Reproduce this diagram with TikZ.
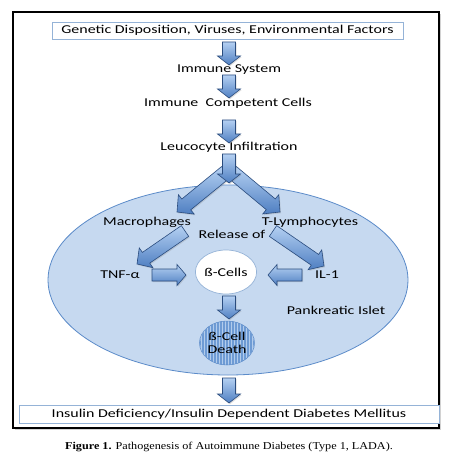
\documentclass[tikz,border=0pt]{standalone}
\usepackage{fontspec}
\setmainfont{Carlito}
\newfontfamily\capfont{Liberation Serif}
\usetikzlibrary{calc,patterns,shadows,shapes.geometric}
\definecolor{arrlight}{HTML}{B4D0F2}
\definecolor{arrdark}{HTML}{4F7FC2}
\definecolor{arredge}{HTML}{2A4C7E}
\definecolor{islefill}{HTML}{C6D9F0}
\definecolor{isleedge}{HTML}{5B8BC9}
\definecolor{boxedge}{HTML}{95B3D7}
\definecolor{deathfill}{HTML}{6E9BD4}
\definecolor{deathline}{HTML}{B2CCEC}
\newcommand\wtext[1]{\scalebox{1.33}[1]{#1}}
% block arrow: shaft half width, head half width, head length, from, to
\newcommand\barrow[5]{%
  \draw[blockarr]
    ($(#4)!#1pt!90:(#5)$) --
    ($(#5)!#3pt!(#4)!#1pt!90:(#5)$) --
    ($(#5)!#3pt!(#4)!#2pt!90:(#5)$) --
    (#5) --
    ($(#5)!#3pt!(#4)!#2pt!-90:(#5)$) --
    ($(#5)!#3pt!(#4)!#1pt!-90:(#5)$) --
    ($(#4)!#1pt!-90:(#5)$) -- cycle;}
\tikzset{
  blockarr/.style={draw=arredge, line width=0.6pt, line join=miter,
    top color=arrlight, bottom color=arrdark,
    drop shadow={opacity=0.25, shadow xshift=1pt, shadow yshift=-1.2pt}},
  lbl/.style={font=\fontsize{12}{14}\selectfont, inner sep=0pt},
  txtbox/.style={draw=boxedge, line width=0.7pt, fill=white, inner sep=0pt,
    font=\fontsize{12}{14}\selectfont},
}
\begin{document}
\begin{tikzpicture}[x=1pt,y=1pt]
\useasboundingbox (0,0) rectangle (454,-457);
\fill[white] (0,0) rectangle (454,-457);
% outer frame
\draw[black, line width=1.3pt, fill=white,
  drop shadow={opacity=0.35, shadow xshift=2pt, shadow yshift=-2pt}]
  (13,-12) rectangle (439,-428);
% pancreatic islet
\node[ellipse, draw=isleedge, fill=islefill, line width=0.8pt,
  minimum width=360pt, minimum height=190pt] (islet) at (228,-280) {};
% boxes
\node[txtbox, minimum width=351pt, minimum height=17pt,
  drop shadow={opacity=0.2, shadow xshift=1pt, shadow yshift=-1pt}]
  (gen) at (227.5,-30.5) {\wtext{Genetic Disposition, Viruses, Environmental Factors}};
\node[txtbox, minimum width=420pt, minimum height=18pt] (ins) at (229,-414)
  {\wtext{Insulin Deficiency/Insulin Dependent Diabetes Mellitus}};
% labels
\node[lbl] (imm) at (229,-70) {\wtext{Immune System}};
\node[lbl] (comp) at (228,-103) {\wtext{Immune\ \ Competent Cells}};
\node[lbl] (leu) at (229,-147) {\wtext{Leucocyte Infiltration}};
\node[lbl] (mac) at (147,-222) {\wtext{Macrophages}};
\node[lbl] (tly) at (310,-222) {\wtext{T-Lymphocytes}};
\node[lbl] (rel) at (232,-234) {\wtext{Release of}};
\node[lbl] (tnf) at (120,-275) {\wtext{TNF-α}};
\node[lbl] (il) at (327,-275) {\wtext{IL-1}};
\node[lbl] (pank) at (336,-310) {\wtext{Pankreatic Islet}};
% beta cells
\node[ellipse, draw=boxedge, fill=white, line width=0.7pt,
  minimum width=55pt, minimum height=44pt, lbl] (bc) at (226,-272) {\wtext{ß-Cells}};
\node[ellipse, fill=deathfill, minimum width=54pt, minimum height=44pt] (bdbg) at (227,-343) {};
\node[ellipse, pattern=vertical lines, pattern color=deathline, draw=isleedge, line width=0.5pt,
  minimum width=54pt, minimum height=44pt, lbl, align=center] (bd) at (227,-343)
  {\wtext{ß-Cell}\\[-1pt]\wtext{Death}};
% caption
\node[inner sep=0pt, font=\fontsize{10.5}{12}\selectfont\capfont] (cap) at (229,-447)
  {\scalebox{1.16}[1]{\textbf{Figure 1.} Pathogenesis of Autoimmune Diabetes (Type 1, LADA).}};
% arrow endpoints
\coordinate (a1s) at (229,-42);  \coordinate (a1e) at (229,-65);
\coordinate (a2s) at (229,-75);  \coordinate (a2e) at (229,-98);
\coordinate (a3s) at (229,-120); \coordinate (a3e) at (229,-143);
\coordinate (a4s) at (229,-154); \coordinate (a4e) at (229,-183);
\coordinate (dls) at (226,-172); \coordinate (dle) at (177,-212);
\coordinate (drs) at (232,-172); \coordinate (dre) at (280,-212);
\coordinate (rls) at (185,-231); \coordinate (rle) at (137,-264);
\coordinate (rrs) at (273,-231); \coordinate (rre) at (324,-266);
\coordinate (hls) at (152,-275); \coordinate (hle) at (186,-275);
\coordinate (hrs) at (302,-275); \coordinate (hre) at (268,-275);
\coordinate (d5s) at (229,-296); \coordinate (d5e) at (229,-319);
\coordinate (d6s) at (229,-378); \coordinate (d6e) at (229,-403);
% arrows
\barrow{6.5}{11.5}{9}{a1s}{a1e}
\barrow{6.5}{11.5}{9}{a2s}{a2e}
\barrow{6.5}{11.5}{9}{a3s}{a3e}
\barrow{7}{12.5}{12}{dls}{dle}
\barrow{7}{12.5}{12}{drs}{dre}
\barrow{6.5}{11.5}{9}{a4s}{a4e}
\barrow{6.5}{12}{11}{rls}{rle}
\barrow{6.5}{12}{11}{rrs}{rre}
\barrow{6}{10.5}{9}{hls}{hle}
\barrow{6}{10.5}{9}{hrs}{hre}
\barrow{6.5}{11.5}{9}{d5s}{d5e}
\barrow{6.5}{11.5}{9}{d6s}{d6e}
\end{tikzpicture}
\end{document}
